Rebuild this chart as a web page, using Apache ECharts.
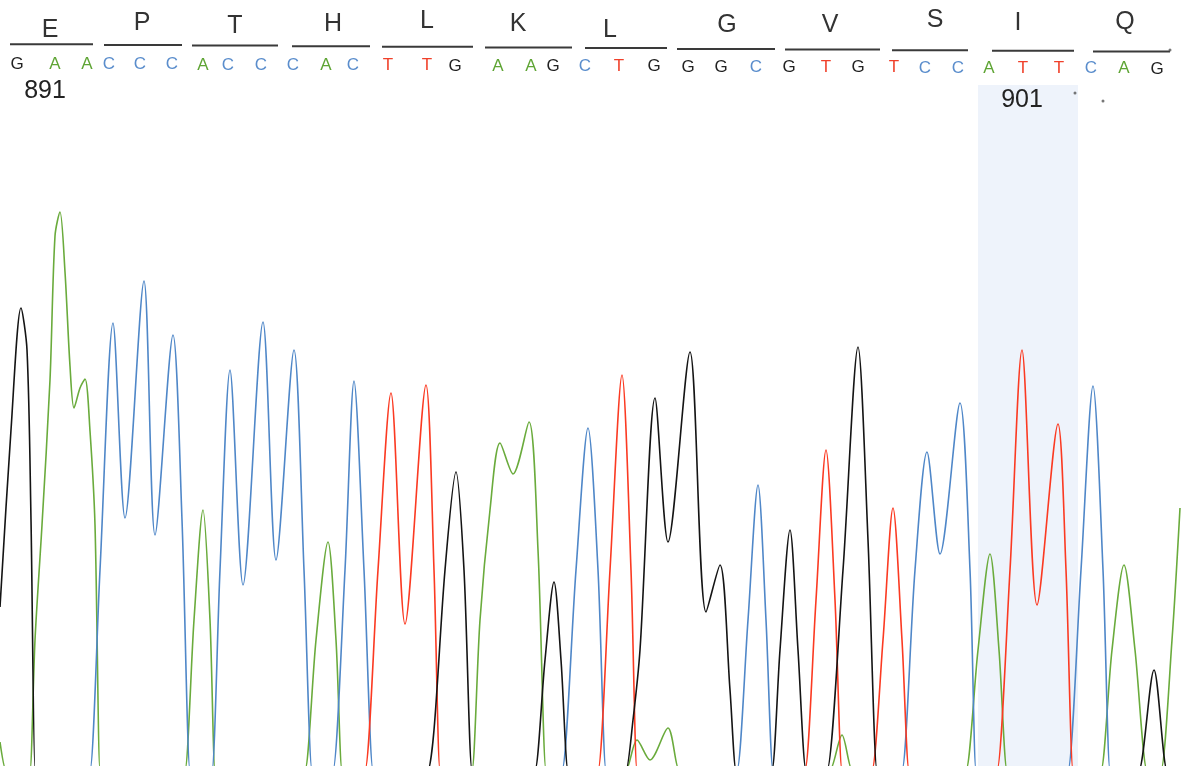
<!DOCTYPE html>
<html>
<head>
<meta charset="utf-8">
<script src="https://cdn.jsdelivr.net/npm/echarts@6/dist/echarts.min.js"></script>
<style>
  html, body { margin: 0; padding: 0; background: #fff; }
  #chart { width: 1192px; height: 766px; }
</style>
</head>
<body>
<div id="chart"></div>
<script>
// base calls and where they sit on the scan axis
const bases = ['G','A','A','C','C','C','A','C','C','C','A','C','T','T','G','A','A','G',
  'C','T','G','G','G','C','G','T','G','T','C','C','A','T','T','C','A','G']
const baseX = [17, 55, 87, 109, 140, 172, 203, 228, 261, 293, 326, 353, 388, 427, 455, 498, 531, 553,
  585, 619, 654, 688, 721, 756, 789, 826, 858, 894, 925, 958, 989, 1023, 1059, 1091, 1124, 1157]

// translated codons
const aminoAcids = ['E', 'P', 'T', 'H', 'L', 'K', 'L', 'G', 'V', 'S', 'I', 'Q']
const aaX = [50, 142, 235, 333, 427, 518, 610, 727, 830, 935, 1018, 1125]
const aaStart = [10, 104, 192, 292, 382, 485, 585, 677, 785, 892, 992, 1093]
const aaEnd = [93, 182, 278, 370, 473, 572, 667, 775, 880, 968, 1074, 1170]

// position numbers
const posLabels = ['891', '901']
const posX = [45, 1022]

// highlighted base column
const bandFrom = 978
const bandTo = 1078
const bandTop = 685

// stray specks in the scan
const specks = [[1170, 720], [1075, 677], [1103, 669]]

// traces [scan, signal]
const traceG = [[0, 163], [11, 340], [21, 462], [27, 420], [31, 250], [35, 0], [36, 0],
  [427, 0], [428, 0], [434, 40], [445, 200], [456, 298], [464, 200], [472, 0], [473, 0],
  [534, 0], [535, 0], [545, 110], [554, 188], [561, 110], [568, 0], [569, 0],
  [625, 0], [626, 0], [633, 50], [640, 120], [655, 372], [668, 228], [690, 418], [706, 158], [720, 205], [730, 80], [736, 0], [737, 0],
  [771, 0], [772, 0], [780, 120], [790, 240], [798, 120], [806, 0], [807, 0],
  [826, 0], [827, 0], [843, 200], [858, 423], [868, 230], [877, 0], [878, 0],
  [1138, 0], [1139, 0], [1154, 100], [1167, 0], [1168, 0]]

const traceA = [[0, 28], [6, 0], [7, 0],
  [29, 0], [30, 0], [35, 130], [42, 245], [50, 390], [55, 534], [60, 558], [65, 498], [70, 404], [74, 362], [80, 382], [85, 391], [90, 339], [95, 245], [100, 0], [101, 0],
  [184, 0], [185, 0], [194, 150], [203, 260], [210, 150], [215, 0], [216, 0],
  [304, 0], [305, 0], [316, 130], [328, 228], [336, 130], [342, 0], [343, 0],
  [471, 0], [472, 0], [480, 150], [490, 260], [500, 327], [513, 296], [529, 348], [538, 220], [546, 0], [547, 0],
  [625, 0], [626, 0], [637, 30], [650, 10], [668, 42], [679, 0], [680, 0],
  [829, 0], [830, 0], [842, 35], [852, 0], [853, 0],
  [965, 0], [966, 0], [978, 120], [990, 216], [999, 120], [1007, 0], [1008, 0],
  [1100, 0], [1101, 0], [1112, 120], [1124, 205], [1135, 120], [1147, 0], [1148, 0],
  [1160, 0], [1161, 0], [1172, 130], [1180, 262]]

const traceC = [[89, 0], [90, 0], [100, 200], [113, 447], [125, 252], [144, 489], [155, 235], [173, 435], [182, 250], [190, 0], [191, 0],
  [211, 0], [212, 0], [220, 200], [230, 400], [243, 185], [263, 448], [276, 210], [294, 420], [304, 200], [312, 0], [313, 0],
  [332, 0], [333, 0], [345, 200], [354, 389], [364, 200], [373, 0], [374, 0],
  [561, 0], [562, 0], [576, 200], [588, 342], [598, 200], [606, 0], [607, 0],
  [736, 0], [737, 0], [748, 150], [758, 285], [766, 150], [773, 0], [774, 0],
  [901, 0], [902, 0], [915, 200], [927, 318], [940, 216], [960, 367], [970, 200], [976, 0], [977, 0],
  [1067, 0], [1068, 0], [1081, 200], [1093, 384], [1103, 200], [1110, 0], [1111, 0]]

const traceT = [[364, 0], [365, 0], [378, 200], [391, 377], [405, 146], [426, 385], [434, 200], [440, 0], [441, 0],
  [597, 0], [598, 0], [610, 200], [622, 395], [631, 200], [637, 0], [638, 0],
  [804, 0], [805, 0], [816, 170], [826, 320], [835, 170], [842, 0], [843, 0],
  [871, 0], [872, 0], [883, 130], [893, 262], [902, 130], [909, 0], [910, 0],
  [996, 0], [997, 0], [1010, 200], [1022, 420], [1037, 165], [1058, 346], [1066, 200], [1073, 0], [1074, 0]]

const traceColors = { G: '#141414', A: '#6aab3c', C: '#4f87c8', T: '#fb3a22' }
const letterColors = { G: '#222222', A: '#5fa535', C: '#5a8dcc', T: '#f0402a' }

// label heights in the header (they wander a bit in the scan)
const aaLabelY = [30, 23, 26, 24, 21, 24, 30, 25, 25, 20, 23, 22]

const chart = echarts.init(document.getElementById('chart'))

function trace (name, data) {
  return {
    name: name,
    type: 'line',
    data: data,
    smooth: 0.3,
    symbol: 'none',
    z: 3,
    lineStyle: { color: traceColors[name], width: 1.6 },
    silent: true
  }
}

const option = {
  animation: false,
  backgroundColor: '#ffffff',
  grid: { left: 0, right: 0, top: 0, bottom: 0 },
  xAxis: { type: 'value', min: 0, max: 1192, show: false },
  yAxis: { type: 'value', min: 4, max: 770, show: false },
  series: [
    {
      // highlight band behind the traces
      type: 'line',
      data: [],
      z: 1,
      markArea: {
        silent: true,
        itemStyle: { color: '#eef3fb' },
        data: [[{ xAxis: bandFrom, yAxis: 4 }, { xAxis: bandTo, yAxis: bandTop }]]
      }
    },
    trace('A', traceA),
    trace('C', traceC),
    trace('T', traceT),
    trace('G', traceG),
    {
      type: 'custom',
      z: 5,
      silent: true,
      data: baseX.map(x => [x, 400]),
      renderItem: function (params, api) {
        const b = bases[params.dataIndex]
        const x = api.coord([api.value(0), 400])[0]
        return {
          type: 'text',
          x: x,
          y: 64 + x * 5 / 1192,
          style: {
            text: b,
            fill: letterColors[b],
            font: '17px "Liberation Sans"',
            align: 'center',
            verticalAlign: 'middle'
          }
        }
      }
    },
    {
      type: 'custom',
      z: 5,
      silent: true,
      data: aminoAcids.map((a, i) => [aaX[i], 400]),
      renderItem: function (params, api) {
        const i = params.dataIndex
        const x1 = api.coord([aaStart[i], 400])[0]
        const x2 = api.coord([aaEnd[i], 400])[0]
        const cx = api.coord([aaX[i], 400])[0]
        const ly = 44 + cx * 8 / 1192
        return {
          type: 'group',
          children: [
            {
              type: 'line',
              shape: { x1: x1, y1: ly, x2: x2, y2: ly },
              style: { stroke: '#3a3a3a', lineWidth: 2 }
            },
            {
              type: 'text',
              x: cx,
              y: aaLabelY[i],
              style: {
                text: aminoAcids[i],
                fill: '#333333',
                font: '25px "Liberation Sans"',
                align: 'center',
                verticalAlign: 'middle'
              }
            }
          ]
        }
      }
    },
    {
      type: 'custom',
      z: 5,
      silent: true,
      data: posX.map(x => [x, 400]),
      renderItem: function (params, api) {
        const x = api.coord([api.value(0), 400])[0]
        return {
          type: 'text',
          x: x,
          y: 91 + x * 11 / 1192,
          style: {
            text: posLabels[params.dataIndex],
            fill: '#222222',
            font: '25px "Liberation Sans"',
            align: 'center',
            verticalAlign: 'middle'
          }
        }
      }
    },
    {
      type: 'scatter',
      data: specks,
      symbolSize: 3,
      z: 5,
      silent: true,
      itemStyle: { color: '#555555' }
    }
  ]
}

chart.setOption(option)
</script>
</body>
</html>
